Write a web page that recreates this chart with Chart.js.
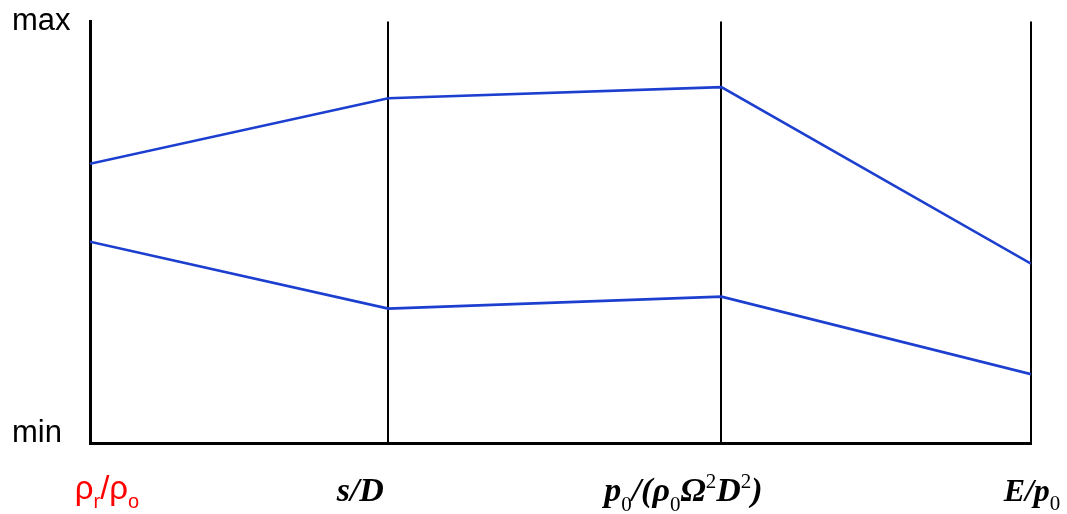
<!DOCTYPE html>
<html>
<head>
<meta charset="utf-8">
<script src="https://cdn.jsdelivr.net/npm/chart.js@4/dist/chart.umd.min.js"></script>
<style>
  html, body { margin: 0; padding: 0; background: #ffffff; }
  #wrap { width: 1067px; height: 514px; }
</style>
</head>
<body>
<div id="wrap"><canvas id="c" width="1067" height="514"></canvas></div>
<script>
// ---- data ----
// axis names ('_x' = subscript, '^x' = superscript)
const categories = ['ρ_r/ρ_o', 's/D', 'p_0/(ρ_0Ω^2D^2)', 'E/p_0'];
// relative position of each parallel axis along the horizontal
const axisX = [0, 0.317, 0.671, 1];
// normalized values (0 = min, 1 = max)
const upperSeries = [0.655, 0.814, 0.841, 0.413];
const lowerSeries = [0.466, 0.304, 0.333, 0.145];
const yTickValues = [0, 1];
const yTickLabels = ['min', 'max'];

// ---- label styles (not data) ----
const labelStyles = [
  { family: '"Liberation Sans", Arial, sans-serif', size: 33, italic: false, color: '#ff0000', dx: 17, baseline: 499, subScale: 0.6 },
  { family: '"Liberation Serif", "Times New Roman", serif', size: 34, italic: true, bold: true, color: '#000000', dx: -28, baseline: 501, subScale: 0.62 },
  { family: '"Liberation Serif", "Times New Roman", serif', size: 34, italic: true, bold: true, color: '#000000', dx: -38, baseline: 501, subScale: 0.62 },
  { family: '"Liberation Serif", "Times New Roman", serif', size: 32, italic: true, bold: true, color: '#000000', dx: 1, baseline: 501, subScale: 0.66 }
];

function parseRich(str) {
  const parts = [];
  let i = 0;
  while (i < str.length) {
    const ch = str[i];
    if ((ch === '_' || ch === '^') && i + 1 < str.length) {
      parts.push({ t: str[i + 1], mode: ch === '_' ? 'sub' : 'sup' });
      i += 2;
    } else {
      parts.push({ t: ch, mode: 'normal' });
      i += 1;
    }
  }
  return parts;
}

function fontFor(style, mode) {
  const small = mode !== 'normal';
  const size = small ? Math.round(style.size * style.subScale) : style.size;
  const it = (!small && style.italic) ? 'italic ' : '';
  const bd = (!small && style.bold) ? 'bold ' : '';
  return it + bd + size + 'px ' + style.family;
}

const axisLabelPlugin = {
  id: 'axisLabels',
  afterDraw(chart) {
    const ctx = chart.ctx;
    const xs = chart.scales.x;
    ctx.save();
    ctx.textBaseline = 'alphabetic';
    ctx.textAlign = 'left';
    categories.forEach((label, i) => {
      const st = labelStyles[i];
      const parts = parseRich(label);
      let total = 0;
      parts.forEach(p => {
        ctx.font = fontFor(st, p.mode);
        p.w = ctx.measureText(p.t).width;
        total += p.w;
      });
      let x = xs.getPixelForValue(axisX[i]) + st.dx - total / 2;
      ctx.fillStyle = st.color;
      parts.forEach(p => {
        ctx.font = fontFor(st, p.mode);
        let y = st.baseline;
        if (p.mode === 'sub') y += st.size * 0.28;
        if (p.mode === 'sup') y -= st.size * 0.38;
        ctx.fillText(p.t, x, y);
        x += p.w;
      });
    });
    ctx.restore();
  }
};

const bgPlugin = {
  id: 'bg',
  beforeDraw(chart) {
    const ctx = chart.ctx;
    ctx.save();
    ctx.fillStyle = '#ffffff';
    ctx.fillRect(0, 0, chart.width, chart.height);
    ctx.restore();
  }
};

const lineColor = '#1c3fcf';

new Chart(document.getElementById('c'), {
  type: 'line',
  data: {
    datasets: [
      { data: axisX.map((x, i) => ({ x: x, y: upperSeries[i] })), borderColor: lineColor, borderWidth: 2.6, pointRadius: 0, tension: 0, fill: false },
      { data: axisX.map((x, i) => ({ x: x, y: lowerSeries[i] })), borderColor: lineColor, borderWidth: 2.6, pointRadius: 0, tension: 0, fill: false }
    ]
  },
  options: {
    responsive: false,
    devicePixelRatio: 1,
    animation: false,
    layout: { padding: { left: 12, top: 20, right: 36, bottom: 0 } },
    plugins: { legend: { display: false }, tooltip: { enabled: false } },
    scales: {
      x: {
        type: 'linear',
        min: 0,
        max: 1,
        z: 1,
        afterBuildTicks(scale) { scale.ticks = axisX.map(v => ({ value: v })); },
        afterFit(scale) { scale.height = 71; },
        ticks: { display: false },
        grid: { display: true, color: '#000000', lineWidth: 2, drawTicks: false },
        border: { display: true, color: '#000000', width: 3 }
      },
      y: {
        type: 'linear',
        min: -0.022,
        max: 1,
        z: 1,
        afterBuildTicks(scale) { scale.ticks = yTickValues.map(v => ({ value: v })); },
        afterFit(scale) { scale.width = 78; },
        ticks: {
          crossAlign: 'far',
          color: '#000000',
          font: { family: '"Liberation Sans", Arial, sans-serif', size: 31 },
          callback: (v, i) => yTickLabels[i]
        },
        grid: { display: false, drawTicks: false },
        border: { display: true, color: '#000000', width: 3 }
      }
    }
  },
  plugins: [bgPlugin, axisLabelPlugin]
});
</script>
</body>
</html>
